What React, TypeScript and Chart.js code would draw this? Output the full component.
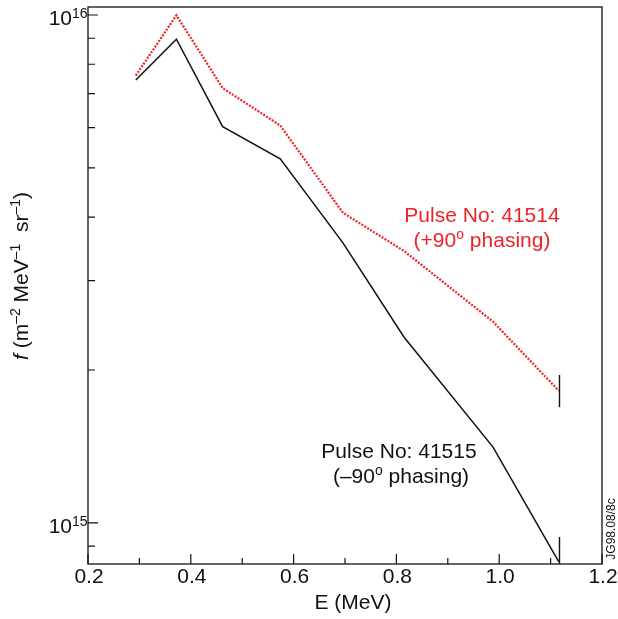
import React, { useEffect, useRef } from "react";
import { Chart, registerables } from "chart.js";

Chart.register(...registerables);

// ---- data ----
const energy = [0.293, 0.372, 0.462, 0.574, 0.696, 0.815, 0.988, 1.116];
const fluxPulse41515 = [7.45e15, 8.96e15, 6.03e15, 5.21e15, 3.56e15, 2.32e15, 1.41e15, 8.38e14];
const fluxPulse41514 = [7.6e15, 9.99e15, 7.18e15, 6.06e15, 4.08e15, 3.43e15, 2.49e15, 1.82e15];
const errBarX = [1.116, 1.116];
const errBarLow = [1.69e15, 7.5e14];
const errBarHigh = [1.955e15, 9.38e14];
const xMajorTicks = [0.2, 0.4, 0.6, 0.8, 1.0, 1.2];
const xMinorTicks = [0.3, 0.5, 0.7, 0.9, 1.1];
const yMajorExponents = [15, 16];
const yMinorTicks = [9e14, 2e15, 3e15, 4e15, 5e15, 6e15, 7e15, 8e15, 9e15];

const FONT = '"Liberation Sans", Arial, Helvetica, sans-serif';
const RED = "#ee2229";
const INK = "#111111";
const SX = 1.0;

type Part = { t: string; sup?: boolean; italic?: boolean };

function drawRich(
  ctx: CanvasRenderingContext2D,
  parts: Part[],
  x: number,
  y: number,
  align: "left" | "center" | "right",
  size: number,
  supSize: number,
  raise: number,
  color: string,
  sx: number
) {
  const widths = parts.map((p) => {
    ctx.font = `${p.italic ? "italic " : ""}${p.sup ? supSize : size}px ${FONT}`;
    return ctx.measureText(p.t).width * sx;
  });
  const total = widths.reduce((a, b) => a + b, 0);
  let cx = align === "left" ? x : align === "center" ? x - total / 2 : x - total;
  ctx.fillStyle = color;
  ctx.textAlign = "left";
  ctx.textBaseline = "alphabetic";
  parts.forEach((p, i) => {
    ctx.font = `${p.italic ? "italic " : ""}${p.sup ? supSize : size}px ${FONT}`;
    ctx.save();
    ctx.translate(cx, y - (p.sup ? raise : 0));
    ctx.scale(sx, 1);
    ctx.fillText(p.t, 0, 0);
    ctx.restore();
    cx += widths[i];
  });
}

const framePlugin = {
  id: "framePlugin",
  afterDraw(chart: any) {
    const { ctx, chartArea: a } = chart;
    const xs = chart.scales.x;
    const ys = chart.scales.y;
    ctx.save();

    // error bars
    ctx.save();
    ctx.beginPath();
    ctx.rect(a.left, a.top, a.right - a.left, a.bottom - a.top);
    ctx.clip();
    ctx.strokeStyle = INK;
    ctx.lineWidth = 1.4;
    errBarX.forEach((ex, i) => {
      const px = Math.round(xs.getPixelForValue(ex)) + 0.5;
      ctx.beginPath();
      ctx.moveTo(px, ys.getPixelForValue(errBarHigh[i]));
      ctx.lineTo(px, ys.getPixelForValue(errBarLow[i]));
      ctx.stroke();
    });
    ctx.restore();

    // frame
    ctx.strokeStyle = INK;
    ctx.lineWidth = 1.3;
    ctx.strokeRect(a.left, a.top, a.right - a.left, a.bottom - a.top);

    // x ticks (inward)
    ctx.lineWidth = 1.2;
    ctx.beginPath();
    xMajorTicks.forEach((v) => {
      const px = xs.getPixelForValue(v);
      ctx.moveTo(px, a.bottom);
      ctx.lineTo(px, a.bottom - 10);
    });
    xMinorTicks.forEach((v) => {
      const px = xs.getPixelForValue(v);
      ctx.moveTo(px, a.bottom);
      ctx.lineTo(px, a.bottom - 6);
    });
    // y ticks (inward)
    yMajorExponents.forEach((e) => {
      const py = ys.getPixelForValue(Math.pow(10, e));
      ctx.moveTo(a.left, py);
      ctx.lineTo(a.left + 10, py);
    });
    yMinorTicks.forEach((v) => {
      const py = ys.getPixelForValue(v);
      ctx.moveTo(a.left, py);
      ctx.lineTo(a.left + 7, py);
    });
    ctx.stroke();

    // x tick labels
    xMajorTicks.forEach((v) => {
      const px = xs.getPixelForValue(v);
      drawRich(ctx, [{ t: v.toFixed(1) }], px + 1, a.bottom + 19, "center", 21, 14, 0, INK, SX);
    });
    // y tick labels
    yMajorExponents.forEach((e) => {
      const py = ys.getPixelForValue(Math.pow(10, e));
      drawRich(ctx, [{ t: "10" }], a.left - 16, py + 10, "right", 21, 14, 0, INK, SX);
      drawRich(ctx, [{ t: String(e) }], a.left - 16, py + 3, "left", 14, 14, 0, INK, SX);
    });

    // x title
    drawRich(ctx, [{ t: "E (MeV)" }], (a.left + a.right) / 2 + 8, a.bottom + 45, "center", 21, 14, 0, INK, SX);

    // y title (rotated)
    ctx.save();
    ctx.translate(28, 276);
    ctx.rotate(-Math.PI / 2);
    drawRich(
      ctx,
      [
        { t: "f", italic: true },
        { t: " (m" },
        { t: "\u20132", sup: true },
        { t: " MeV" },
        { t: "\u20131", sup: true },
        { t: "  sr" },
        { t: "\u20131", sup: true },
        { t: ")" },
      ],
      0,
      0,
      "center",
      21,
      14,
      8,
      INK,
      1.0
    );
    ctx.restore();

    // annotations
    drawRich(ctx, [{ t: "Pulse No: 41514" }], 482, 222, "center", 21, 14, 0, RED, SX);
    drawRich(
      ctx,
      [{ t: "(+90" }, { t: "o", sup: true }, { t: " phasing)" }],
      482,
      247,
      "center",
      21,
      14,
      8,
      RED,
      SX
    );
    drawRich(ctx, [{ t: "Pulse No: 41515" }], 399, 458, "center", 21, 14, 0, INK, SX);
    drawRich(
      ctx,
      [{ t: "(\u201390" }, { t: "o", sup: true }, { t: " phasing)" }],
      401,
      483,
      "center",
      21,
      14,
      8,
      INK,
      SX
    );

    // figure code
    ctx.save();
    ctx.translate(615, 529);
    ctx.rotate(-Math.PI / 2);
    drawRich(ctx, [{ t: "JG98.08/8c" }], 0, 0, "center", 12, 8, 0, INK, 1.0);
    ctx.restore();

    ctx.restore();
  },
};

export default function App() {
  const ref = useRef<HTMLCanvasElement>(null);
  useEffect(() => {
    if (!ref.current) return;
    const chart = new Chart(ref.current, {
      type: "line",
      data: {
        labels: energy,
        datasets: [
          {
            label: "Pulse No: 41514 (+90° phasing)",
            data: energy.map((e, i) => ({ x: e, y: fluxPulse41514[i] })),
            borderColor: RED,
            borderWidth: 2.2,
            borderDash: [2, 1.4],
            pointRadius: 0,
            tension: 0,
            fill: false,
          },
          {
            label: "Pulse No: 41515 (–90° phasing)",
            data: energy.map((e, i) => ({ x: e, y: fluxPulse41515[i] })),
            borderColor: INK,
            borderWidth: 1.5,
            pointRadius: 0,
            tension: 0,
            fill: false,
          },
        ],
      },
      options: {
        responsive: false,
        animation: false,
        devicePixelRatio: 1,
        layout: { padding: { left: 88, right: 16, top: 7, bottom: 55 } },
        plugins: { legend: { display: false }, tooltip: { enabled: false } },
        scales: {
          x: { type: "linear", min: 0.2, max: 1.2, display: false },
          y: { type: "logarithmic", min: 8.3e14, max: 1.037e16, bounds: "data", display: false },
        },
      },
      plugins: [framePlugin],
    });
    return () => chart.destroy();
  }, []);
  return (
    <div style={{ position: "fixed", left: 0, top: 0, width: 618, height: 619, background: "#fff" }}>
      <canvas ref={ref} width={618} height={619} style={{ display: "block" }} />
    </div>
  );
}
